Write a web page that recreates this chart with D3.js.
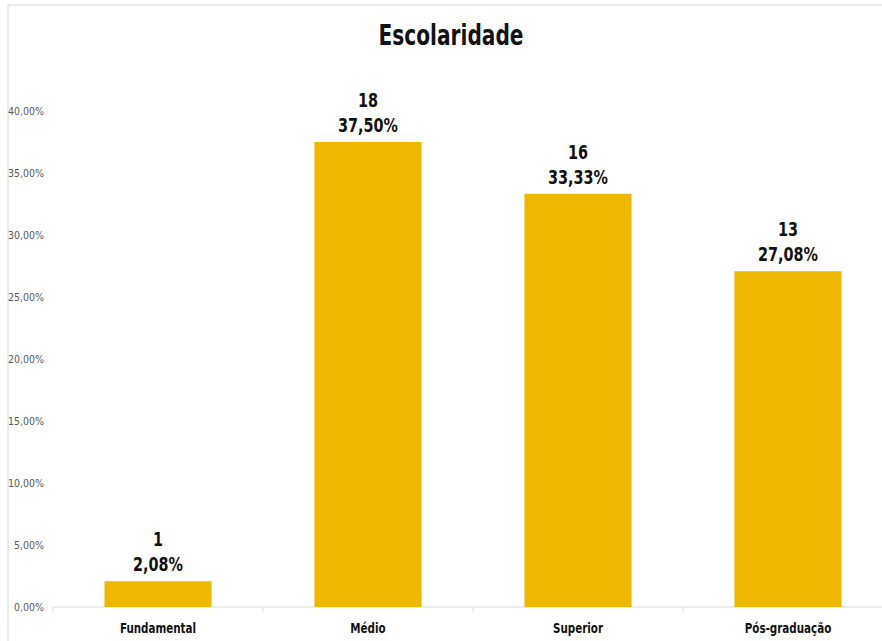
<!DOCTYPE html>
<html>
<head>
<meta charset="utf-8">
<script src="https://cdn.jsdelivr.net/npm/d3@7"></script>
<style>
  body { margin: 0; background: #fff; }
  svg { display: block; }
</style>
</head>
<body>
<svg width="882" height="641"></svg>
<script>
var categories = ["Fundamental", "Médio", "Superior", "Pós-graduação"];
var counts = [1, 18, 16, 13];
var percents = [2.08, 37.50, 33.33, 27.08];
var yTicks = [0, 5, 10, 15, 20, 25, 30, 35, 40];

var FONT = "'DejaVu Sans Condensed', 'DejaVu Sans', sans-serif";
var svg = d3.select("svg");
var margin = {top: 111, right: -11, bottom: 34, left: 53};
var width = +svg.attr("width") - margin.left - margin.right;
var height = +svg.attr("height") - margin.top - margin.bottom;

var fmt = function(v) { return v.toFixed(2).replace(".", ",") + "%"; };

// squeeze bold text horizontally, the original font is narrower
function narrow(sel, k) {
    sel.each(function() {
        var w = this.getComputedTextLength();
        d3.select(this).attr("textLength", w * k).attr("lengthAdjust", "spacingAndGlyphs");
    });
}

// outer frame (top and left edges visible)
svg.append("line")
    .attr("x1", 8).attr("y1", 5).attr("x2", 882).attr("y2", 5)
    .attr("stroke", "#e3e3e3").attr("stroke-width", 1.5);
svg.append("line")
    .attr("x1", 8).attr("y1", 5).attr("x2", 8).attr("y2", 641)
    .attr("stroke", "#e3e3e3").attr("stroke-width", 1.5);

svg.append("text")
    .attr("x", 451).attr("y", 45)
    .attr("text-anchor", "middle")
    .attr("font-family", FONT)
    .attr("font-weight", "bold")
    .attr("font-size", 28)
    .attr("fill", "#111")
    .text("Escolaridade")
    .call(narrow, 0.8);

var g = svg.append("g").attr("transform", "translate(" + margin.left + "," + margin.top + ")");

var x = d3.scaleBand()
    .domain(categories)
    .range([0, 840])
    .paddingInner(0.49)
    .paddingOuter(0.245);

var y = d3.scaleLinear()
    .domain([0, 40])
    .range([height, 0]);

// y axis labels
g.selectAll(".ytick")
    .data(yTicks)
    .enter().append("text")
    .attr("class", "ytick")
    .attr("x", -9)
    .attr("y", function(d) { return y(d); })
    .attr("dy", "0.35em")
    .attr("text-anchor", "end")
    .attr("font-family", FONT)
    .attr("font-size", 10.5)
    .attr("fill", "#595959")
    .text(function(d) { return fmt(d); });

// x axis line with ticks between categories
g.append("line")
    .attr("x1", 0).attr("x2", 840)
    .attr("y1", height).attr("y2", height)
    .attr("stroke", "#d9d9d9").attr("stroke-width", 1);

g.selectAll(".xtick")
    .data(d3.range(categories.length + 1))
    .enter().append("line")
    .attr("class", "xtick")
    .attr("x1", function(i) { return i * x.step(); })
    .attr("x2", function(i) { return i * x.step(); })
    .attr("y1", height).attr("y2", height + 5)
    .attr("stroke", "#d9d9d9");

g.selectAll(".bar")
    .data(percents)
    .enter().append("rect")
    .attr("class", "bar")
    .attr("x", function(d, i) { return x(categories[i]); })
    .attr("y", function(d) { return y(d); })
    .attr("width", x.bandwidth())
    .attr("height", function(d) { return height - y(d); })
    .attr("fill", "#EEB700");

g.selectAll(".cnt")
    .data(percents)
    .enter().append("text")
    .attr("class", "cnt")
    .attr("x", function(d, i) { return x(categories[i]) + x.bandwidth() / 2; })
    .attr("y", function(d) { return y(d) - 35; })
    .attr("text-anchor", "middle")
    .attr("font-family", FONT)
    .attr("font-weight", "bold")
    .attr("font-size", 20)
    .attr("fill", "#111")
    .text(function(d, i) { return counts[i]; })
    .call(narrow, 0.8);

g.selectAll(".pct")
    .data(percents)
    .enter().append("text")
    .attr("class", "pct")
    .attr("x", function(d, i) { return x(categories[i]) + x.bandwidth() / 2; })
    .attr("y", function(d) { return y(d) - 10; })
    .attr("text-anchor", "middle")
    .attr("font-family", FONT)
    .attr("font-weight", "bold")
    .attr("font-size", 20)
    .attr("fill", "#111")
    .text(function(d) { return fmt(d); })
    .call(narrow, 0.8);

g.selectAll(".cat")
    .data(categories)
    .enter().append("text")
    .attr("class", "cat")
    .attr("x", function(d) { return x(d) + x.bandwidth() / 2; })
    .attr("y", height + 26)
    .attr("text-anchor", "middle")
    .attr("font-family", FONT)
    .attr("font-weight", "bold")
    .attr("font-size", 14)
    .attr("fill", "#111")
    .text(function(d) { return d; })
    .call(narrow, 0.82);
</script>
</body>
</html>
